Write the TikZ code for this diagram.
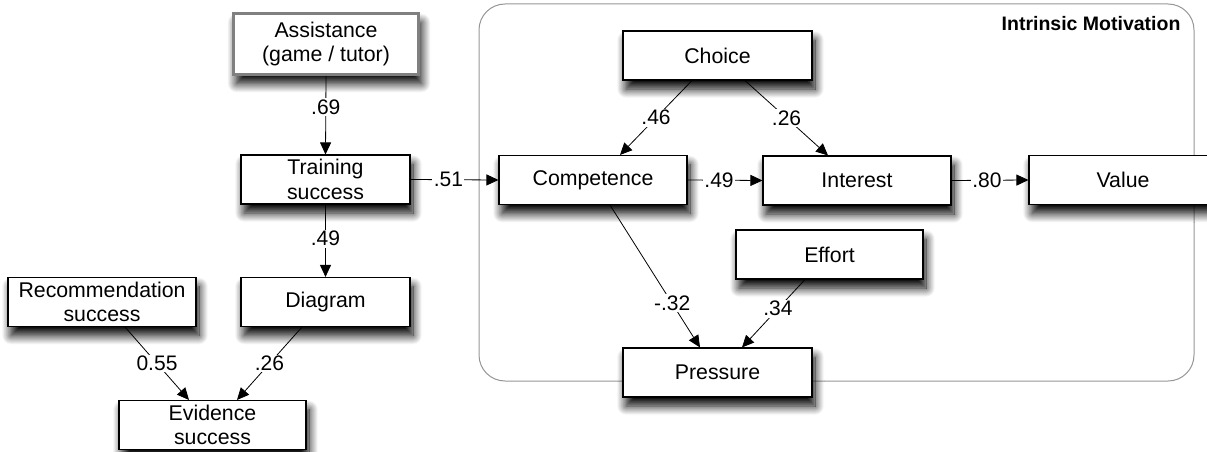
\documentclass[tikz,border=0pt]{standalone}
\usepackage{fontspec}
\setmainfont{Liberation Sans}
\usetikzlibrary{arrows.meta,shadows.blur}

\definecolor{framegray}{RGB}{150,150,150}
\definecolor{thickgray}{RGB}{128,128,128}

\tikzset{
  box/.style={draw=black, line width=1.1pt, fill=white, align=center,
    inner sep=0pt, font=\fontsize{21.3}{24.5}\selectfont,
    minimum width=#1, minimum height=49pt,
    blur shadow={shadow xshift=3pt, shadow yshift=-9pt,
      shadow blur radius=9pt, shadow blur steps=14, shadow opacity=100}},
  box/.default=188pt,
  keybox/.style={box=185pt, draw=thickgray, line width=3pt, minimum height=61pt},
  edge/.style={draw=black, line width=0.8pt,
    -{Triangle[length=12pt,width=11pt]}},
  lbl/.style={fill=white, inner sep=1.5pt, font=\fontsize{21}{24}\selectfont},
  group/.style={draw=framegray, line width=1pt, rounded corners=26pt}
}

\begin{document}
\begin{tikzpicture}[x=1pt, y=-1pt]
\useasboundingbox (0,0) rectangle (1207,452);

% motivation group frame
\draw[group] (479,4) rectangle (1194,381);
\node[anchor=east, font=\bfseries\fontsize{19.5}{22}\selectfont] (imtitle) at (1184,24) {Intrinsic Motivation};

% left chain
\node[keybox] (assist) at (326,44) {Assistance\\(game / tutor)};
\node[box=169pt] (train) at (325.5,179.5) {Training\\success};
\node[box=169pt] (diagram) at (325.5,302) {Diagram};
\node[box=188pt] (rec) at (102,302) {Recommendation\\success};
\node[box=187pt] (evid) at (212.5,425) {Evidence\\success};

% motivation constructs
\node[box=189pt] (choice) at (717.5,55.5) {Choice};
\node[box] (comp) at (593,180) {Competence};
\node[box] (interest) at (857,180.5) {Interest};
\node[box] (value) at (1123,180) {Value};
\node[box=187pt] (effort) at (829.5,254.5) {Effort};
\node[box=189pt] (pressure) at (717.5,372.5) {Pressure};

% paths
\draw[edge] (assist.south) -- node[lbl, pos=0.4] {.69} (train.north);
\draw[edge] (train.south) -- node[lbl, pos=0.47] {.49} (diagram.north);
\draw[edge] (train.east) -- node[lbl, pos=0.43] {.51} (comp.west);
\draw[edge] ([xshift=23pt]rec.south) -- node[lbl] {0.55} ([xshift=-23.5pt]evid.north);
\draw[edge] ([xshift=-23.5pt]diagram.south) -- node[lbl] {.26} ([xshift=24.5pt]evid.north);
\draw[edge] ([xshift=-25.5pt]choice.south) -- node[lbl] {.46} ([xshift=27pt]comp.north);
\draw[edge] ([xshift=27.5pt]choice.south) -- node[lbl] {.26} ([xshift=-29pt]interest.north);
\draw[edge] (comp.east) -- node[lbl, pos=0.42] {.49} (interest.west);
\draw[edge] (interest.east) -- node[lbl, pos=0.46] {.80} (value.west);
\draw[edge] ([xshift=17pt]comp.south) -- node[lbl, pos=0.69] {-.32} ([xshift=-17.5pt]pressure.north);
\draw[edge] ([xshift=-24.5pt]effort.south) -- node[lbl, pos=0.43] {.34} ([xshift=24.5pt]pressure.north);
\end{tikzpicture}
\end{document}
